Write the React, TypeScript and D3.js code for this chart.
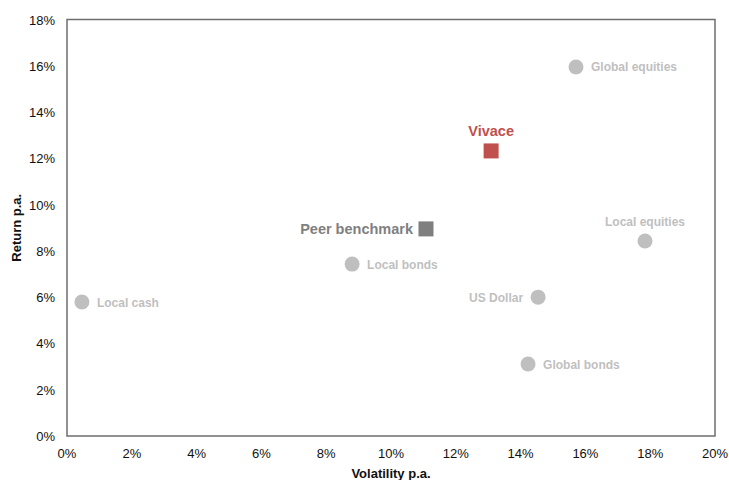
import * as d3 from "d3";

const ASSETS = ["Local cash", "Local bonds", "Global equities", "Local equities", "US Dollar", "Global bonds"];
const ASSET_VOL = [0.46, 8.8, 15.71, 17.84, 14.54, 14.23];
const ASSET_RET = [5.79, 7.43, 15.95, 8.43, 6.0, 3.11];
const ASSET_LABEL_POS = ["right", "right", "right", "above", "left", "right"];

const PORTFOLIOS = ["Vivace", "Peer benchmark"];
const PORT_VOL = [13.09, 11.08];
const PORT_RET = [12.32, 8.95];
const PORT_COLORS = ["#c0504d", "#7f7f7f"];
const PORT_LABEL_POS = ["above", "left"];

const X_TICKS = d3.range(0, 21, 2);
const Y_TICKS = d3.range(0, 19, 2);

const W = 729;
const H = 480;
const margin = { top: 19.5, right: 14, bottom: 44, left: 67 };
const FONT = "'Liberation Sans', Arial, sans-serif";

function labelProps(pos: string, x: number, y: number, off: number) {
  if (pos === "left") return { x: x - off, y: y + 4.5, anchor: "end" };
  if (pos === "above") return { x, y: y - off, anchor: "middle" };
  return { x: x + off, y: y + 4.5, anchor: "start" };
}

export default function App() {
  const innerW = W - margin.left - margin.right;
  const innerH = H - margin.top - margin.bottom;
  const x = d3.scaleLinear().domain([0, 20]).range([margin.left, margin.left + innerW]);
  const y = d3.scaleLinear().domain([0, 18]).range([margin.top + innerH, margin.top]);

  return (
    <svg
      width={W}
      height={H}
      style={{ position: "absolute", left: 0, top: 0, background: "#fff" }}
      fontFamily={FONT}
    >
      <rect
        x={margin.left}
        y={margin.top}
        width={innerW}
        height={innerH}
        fill="none"
        stroke="#6e6e6e"
        strokeWidth={1.5}
      />
      {Y_TICKS.map((t) => (
        <text key={"y" + t} x={margin.left - 12} y={y(t) + 5} textAnchor="end" fontSize={13} fill="#111">
          {t}%
        </text>
      ))}
      {X_TICKS.map((t) => (
        <text key={"x" + t} x={x(t)} y={margin.top + innerH + 22} textAnchor="middle" fontSize={13} fill="#111">
          {t}%
        </text>
      ))}
      <text
        x={margin.left + innerW / 2}
        y={478}
        textAnchor="middle"
        fontSize={13}
        fontWeight="bold"
        fill="#111"
      >
        Volatility p.a.
      </text>
      <text
        transform={`translate(21,${margin.top + innerH / 2}) rotate(-90)`}
        textAnchor="middle"
        fontSize={13}
        fontWeight="bold"
        fill="#111"
      >
        Return p.a.
      </text>

      {ASSETS.map((name, i) => {
        const cx = x(ASSET_VOL[i]);
        const cy = y(ASSET_RET[i]);
        const l = labelProps(ASSET_LABEL_POS[i], cx, cy, 15);
        return (
          <g key={name}>
            <circle cx={cx} cy={cy} r={7.5} fill="#bfbfbf" />
            <text x={l.x} y={l.y} textAnchor={l.anchor} fontSize={12} fontWeight="bold" fill="#bfbfbf">
              {name}
            </text>
          </g>
        );
      })}

      {PORTFOLIOS.map((name, i) => {
        const cx = x(PORT_VOL[i]);
        const cy = y(PORT_RET[i]);
        const l = labelProps(PORT_LABEL_POS[i], cx, cy, 13);
        return (
          <g key={name}>
            <rect x={cx - 7.5} y={cy - 7.5} width={15} height={15} fill={PORT_COLORS[i]} />
            <text
              x={l.x}
              y={PORT_LABEL_POS[i] === "above" ? l.y - 2 : l.y + 0.5}
              textAnchor={l.anchor}
              fontSize={14.5}
              fontWeight="bold"
              fill={PORT_COLORS[i]}
            >
              {name}
            </text>
          </g>
        );
      })}
    </svg>
  );
}
